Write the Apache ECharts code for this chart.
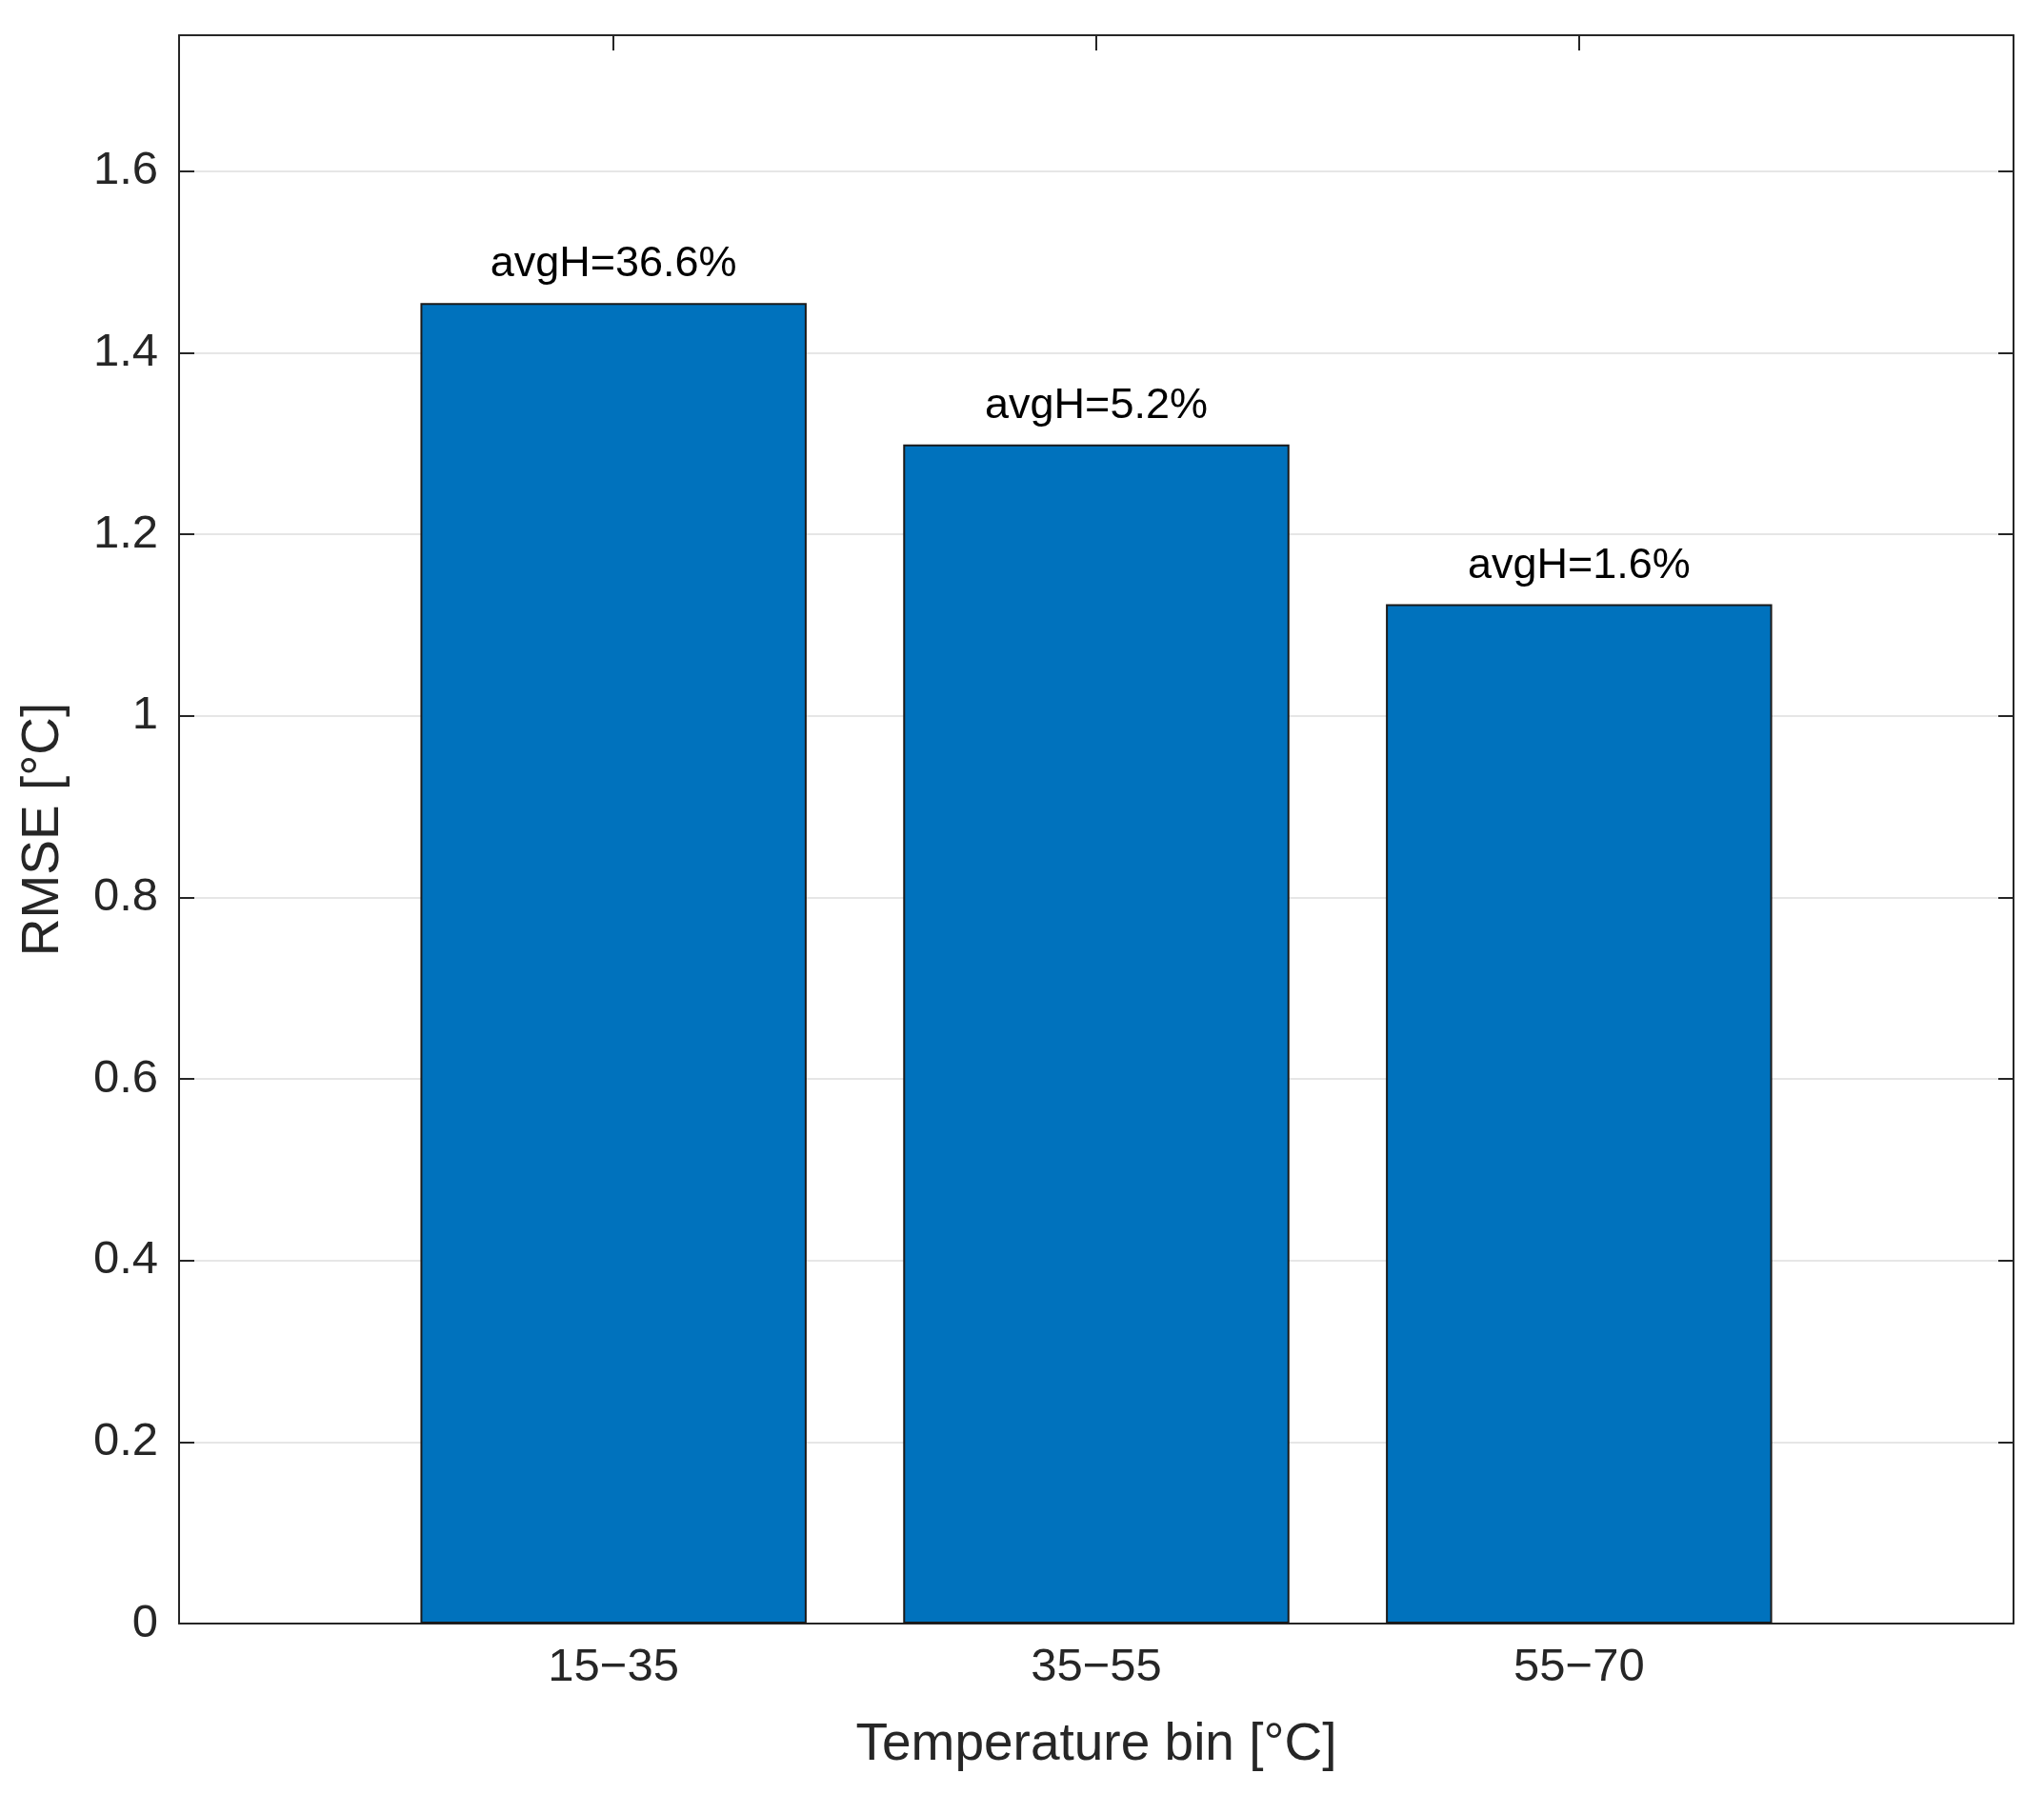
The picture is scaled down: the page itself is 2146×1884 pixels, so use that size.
<!DOCTYPE html><html><head><meta charset="utf-8"><script src="https://cdn.jsdelivr.net/npm/echarts@6/dist/echarts.min.js"></script>
<style>html,body{margin:0;background:#fff}#c{width:2146px;height:1884px}</style></head><body><div id="c"></div><script>
const categories=['15\u221235','35\u221255','55\u221270'];
const positions=[1,2,3];
const rmse=[1.455,1.299,1.123];
const barLabels=['avgH=36.6%','avgH=5.2%','avgH=1.6%'];
const yTicks=[0,0.2,0.4,0.6,0.8,1,1.2,1.4,1.6];
const F='Liberation Sans, Arial, sans-serif';
const grid={left:188,right:32,top:37,bottom:179};
const gw=2146-grid.left-grid.right;
const bw=gw/3.8*0.8;
const ch=echarts.init(document.getElementById('c'));
const axLine={show:true,onZero:false,lineStyle:{color:'#262626',width:2}};
const tick={show:true,inside:true,length:16,lineStyle:{color:'#262626',width:2},customValues:positions};
ch.setOption({animation:false,grid,
xAxis:[{type:'value',min:0.1,max:3.9,axisLine:axLine,axisTick:tick,splitLine:{show:false},
 axisLabel:{customValues:positions,formatter:v=>categories[Math.round(v)-1],fontSize:49,color:'#262626',fontFamily:F,margin:22},
 name:'Temperature bin [°C]',nameLocation:'middle',nameGap:100,nameTextStyle:{fontSize:55,color:'#262626',fontFamily:F}},
 {type:'value',position:'top',min:0.1,max:3.9,axisLine:axLine,axisTick:tick,axisLabel:{show:false},splitLine:{show:false}}],
yAxis:[{type:'value',min:0,max:1.75,axisLine:axLine,
 axisTick:{show:true,inside:true,length:16,lineStyle:{color:'#262626',width:2},customValues:yTicks},
 axisLabel:{customValues:yTicks,fontSize:49,color:'#262626',fontFamily:F,margin:22,formatter:v=>String(Math.round(v*10)/10)},
 splitLine:{show:true,lineStyle:{color:'#e6e6e6',width:2}},
 name:'RMSE [°C]',nameLocation:'middle',nameGap:115,nameTextStyle:{fontSize:55,color:'#262626',fontFamily:F}},
 {type:'value',position:'right',min:0,max:1.75,axisLine:axLine,
 axisTick:{show:true,inside:true,length:16,lineStyle:{color:'#262626',width:2},customValues:yTicks},axisLabel:{show:false},splitLine:{show:false}}],
series:[{type:'bar',barWidth:bw,data:positions.map((p,i)=>[p,rmse[i]]),
 itemStyle:{color:'#0072BD',borderColor:'#1a1a1a',borderWidth:2},
 label:{show:true,position:'top',distance:18,formatter:p=>barLabels[p.dataIndex],fontSize:45,color:'#000',fontFamily:F}}]
});
</script></body></html>
